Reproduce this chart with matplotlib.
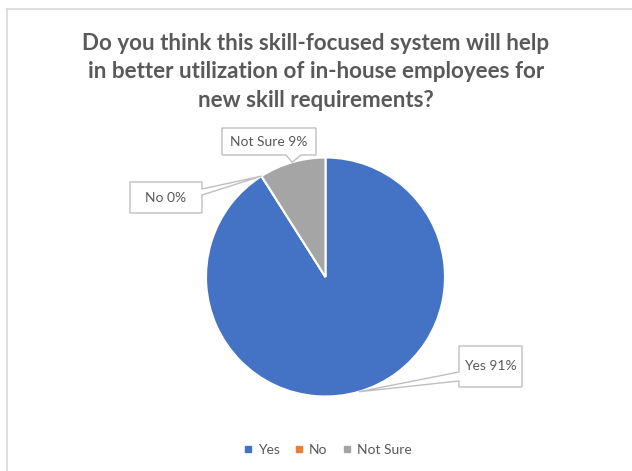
import matplotlib.pyplot as plt
from matplotlib.patches import Polygon
from matplotlib.lines import Line2D
import numpy as np

# Survey answers (percent)
labels = ['Yes', 'No', 'Not Sure']
values = [91, 0, 9]
colors = ['#4472C4', '#ED7D31', '#A5A5A5']

title = ('Do you think this skill-focused system will help\n'
         'in better utilization of in-house employees for\n'
         'new skill requirements?')

W, H = 632, 471
text_color = '#595959'
plt.rcParams['font.family'] = ['Lato', 'DejaVu Sans']

fig = plt.figure(figsize=(W / 100, H / 100), dpi=100)
ax = fig.add_axes([0, 0, 1, 1])


def py(y):
    # pixel row (from top) -> data y
    return H - y


cx, cy, r = 325.5, py(277), 119.5
wedges, _ = ax.pie(values, colors=colors, startangle=90, counterclock=False,
                   center=(cx, cy), radius=r, frame=True,
                   wedgeprops=dict(edgecolor='white', linewidth=1.5))
ax.set_xlim(0, W)
ax.set_ylim(0, H)
ax.set_aspect('equal')
ax.axis('off')


def callout(box, tip, side, b1, b2):
    x0, y0, x1, y1 = box  # pixel coords, y from top
    tx, ty = tip
    if side == 'left':
        pts = [(x0, y0), (x1, y0), (x1, y1), (x0, y1), (x0, b2), (tx, ty), (x0, b1)]
    elif side == 'right':
        pts = [(x0, y0), (x1, y0), (x1, b1), (tx, ty), (x1, b2), (x1, y1), (x0, y1)]
    else:
        pts = [(x0, y0), (x1, y0), (x1, y1), (b2, y1), (tx, ty), (b1, y1), (x0, y1)]
    pts = [(px, py(pyy)) for px, pyy in pts]
    ax.add_patch(Polygon(pts, closed=True, facecolor='white',
                         edgecolor='#BFBFBF', linewidth=1.0, zorder=5))


# label boxes: (x0, y0, x1, y1), pointer side and base
layout = {
    'Yes': ((459, 346, 522, 387), 'left', 372, 381, 'mid'),
    'No': ((130, 182, 202, 213), 'right', 189, 195, 'start'),
    'Not Sure': ((222, 128, 316, 155), 'bottom', 286, 301, 'mid'),
}

for w, lab, val in zip(wedges, labels, values):
    box, side, b1, b2, where = layout[lab]
    ang = (w.theta1 + w.theta2) / 2 if where == 'mid' else w.theta1
    ang = np.deg2rad(ang)
    tip = (cx + r * np.cos(ang), H - (cy + r * np.sin(ang)))
    callout(box, tip, side, b1, b2)
    x0, y0, x1, y1 = box
    ax.text((x0 + x1) / 2, py((y0 + y1) / 2), f'{lab} {val}%', ha='center',
            va='center', fontsize=10, color=text_color, zorder=6)

fig.text(316 / W, 1 - 72 / H, title, ha='center', va='center', fontsize=16.1,
         fontweight='bold', color=text_color, linespacing=1.45)

handles = [Line2D([], [], marker='s', linestyle='none', markersize=5,
                  markerfacecolor=c, markeredgecolor=c) for c in colors]
fig.legend(handles, labels, loc='center', bbox_to_anchor=(327 / W, 1 - 450 / H),
           ncol=3, frameon=False, fontsize=10, labelcolor=text_color,
           handlelength=0.8, handletextpad=0.3, columnspacing=1.0)

# chart area border (left and top edges visible)
fig.add_artist(Line2D([7 / W, 7 / W], [0, 1 - 9 / H], color='#D9D9D9', lw=1.2))
fig.add_artist(Line2D([7 / W, 1], [1 - 9 / H, 1 - 9 / H], color='#D9D9D9', lw=1.2))

fig.savefig('out.png', dpi=100, facecolor='white')
